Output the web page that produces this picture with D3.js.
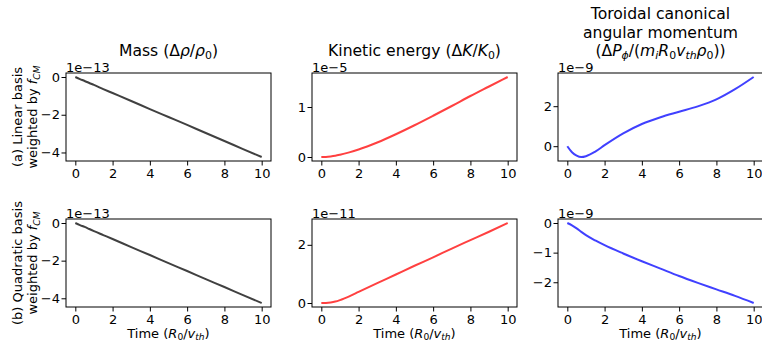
<!DOCTYPE html>
<html>
<head>
<meta charset="utf-8">
<script src="https://cdn.jsdelivr.net/npm/d3@7"></script>
<style>
  body { margin: 0; background: #fff; }
  svg { display: block; font-family: "DejaVu Sans", sans-serif; }
  .tick text { font-size: 13px; fill: #000; }
  .tick line { stroke: #000; stroke-width: 1; }
</style>
</head>
<body>
<svg id="chart" width="762" height="342"></svg>
<script>
// ---- data ----
const time = [0, 0.25, 0.5, 0.75, 1, 1.5, 2, 3, 4, 5, 6, 7, 8, 9, 10];

// row (a): linear basis
const massLinear     = [0, -0.11, -0.21, -0.32, -0.42, -0.64, -0.85, -1.27, -1.70, -2.12, -2.54, -2.97, -3.39, -3.82, -4.24];
const energyLinear   = [0, 0.002, 0.011, 0.025, 0.045, 0.093, 0.15, 0.29, 0.455, 0.635, 0.825, 1.02, 1.22, 1.41, 1.60];
const momentumLinear = [0, -0.30, -0.47, -0.54, -0.50, -0.27, 0.05, 0.64, 1.11, 1.45, 1.72, 1.99, 2.34, 2.85, 3.46];

// row (b): quadratic basis
const massQuadratic     = [0, -0.11, -0.21, -0.32, -0.43, -0.64, -0.85, -1.28, -1.70, -2.13, -2.55, -2.98, -3.40, -3.83, -4.25];
const energyQuadratic   = [0, 0.004, 0.02, 0.05, 0.10, 0.23, 0.38, 0.68, 0.98, 1.28, 1.57, 1.87, 2.16, 2.45, 2.75];
const momentumQuadratic = [0, -0.08, -0.18, -0.30, -0.41, -0.59, -0.75, -1.03, -1.29, -1.54, -1.79, -2.02, -2.24, -2.46, -2.70];

const xTicks = [0, 2, 4, 6, 8, 10];
const yTicksLinear    = [[-4, -2, 0], [0, 1], [0, 2]];
const yTicksQuadratic = [[-4, -2, 0], [0, 2], [-2, -1, 0]];
const offsetLinear    = ['1e\u221213', '1e\u22125', '1e\u22129'];
const offsetQuadratic = ['1e\u221213', '1e\u221211', '1e\u22129'];
const colors = ['#000', '#f00', '#00f'];

// rich text segments: [text, style]  n = normal, i = italic, s = subscript, si = italic subscript
const titles = [
  [[['Mass (\u0394', 'n'], ['\u03c1', 'i'], ['/', 'n'], ['\u03c1', 'i'], ['0', 's'], [')', 'n']]],
  [[['Kinetic energy (\u0394', 'n'], ['K', 'i'], ['/', 'n'], ['K', 'i'], ['0', 's'], [')', 'n']]],
  [
    [['Toroidal canonical', 'n']],
    [['angular momentum', 'n']],
    [['(\u0394', 'n'], ['P', 'i'], ['\u03d5', 'si'], ['/(', 'n'], ['m', 'i'], ['i', 'si'], ['R', 'i'], ['0', 's'],
     ['v', 'i'], ['th', 'si'], ['\u03c1', 'i'], ['0', 's'], ['))', 'n']]
  ]
];
const rowLabels = [
  [[['(a) Linear basis', 'n']], [['weighted by ', 'n'], ['f', 'i'], ['CM', 'si']]],
  [[['(b) Quadratic basis', 'n']], [['weighted by ', 'n'], ['f', 'i'], ['CM', 'si']]]
];
const xLabel = [['Time (', 'n'], ['R', 'i'], ['0', 's'], ['/', 'n'], ['v', 'i'], ['th', 'si'], [')', 'n']];

// ---- layout ----
const colLeft = [66, 312, 558];
const panelW = 205;
const rowTop = [73, 219];
const panelH = 88;

const svg = d3.select('#chart');

function richText(sel, segments, fs) {
  let down = false;
  segments.forEach(([txt, st]) => {
    const sub = st === 's' || st === 'si';
    const t = sel.append('tspan').text(txt);
    if (st === 'i' || st === 'si') t.attr('font-style', 'italic');
    if (sub) t.attr('font-size', fs * 0.7);
    if (sub && !down) { t.attr('dy', fs * 0.22); down = true; }
    else if (!sub && down) { t.attr('dy', -fs * 0.22); down = false; }
  });
}

const rows = [
  { series: [massLinear, energyLinear, momentumLinear], ticks: yTicksLinear, offsets: offsetLinear },
  { series: [massQuadratic, energyQuadratic, momentumQuadratic], ticks: yTicksQuadratic, offsets: offsetQuadratic }
];

const line = d3.line().curve(d3.curveMonotoneX);
const fmt = d => d < 0 ? '\u2212' + Math.abs(d) : String(d);

rows.forEach((row, r) => {
  row.series.forEach((vals, c) => {
    const x0 = colLeft[c], y0 = rowTop[r];
    const g = svg.append('g').attr('transform', `translate(${x0},${y0})`);

    const x = d3.scaleLinear().domain([-0.5, 10.5]).range([0, panelW]);
    const [lo, hi] = d3.extent(vals);
    const pad = (hi - lo) * 0.05;
    const y = d3.scaleLinear().domain([lo - pad, hi + pad]).range([panelH, 0]);

    g.append('g')
      .attr('transform', `translate(0,${panelH})`)
      .call(d3.axisBottom(x).tickValues(xTicks).tickSize(4.5).tickPadding(3.5).tickSizeOuter(0).tickFormat(fmt))
      .call(a => a.select('.domain').remove())
      .call(a => a.selectAll('text').attr('font-family', 'DejaVu Sans'));

    g.append('g')
      .call(d3.axisLeft(y).tickValues(row.ticks[c]).tickSize(4.5).tickPadding(1.5).tickSizeOuter(0).tickFormat(fmt))
      .call(a => a.select('.domain').remove())
      .call(a => a.selectAll('text').attr('font-family', 'DejaVu Sans'));

    g.append('path')
      .datum(vals.map((v, i) => [x(time[i]), y(v)]))
      .attr('d', line)
      .attr('fill', 'none')
      .attr('stroke', colors[c])
      .attr('stroke-opacity', 0.75)
      .attr('stroke-width', 2);

    g.append('rect')
      .attr('x', 0).attr('y', 0)
      .attr('width', panelW).attr('height', panelH)
      .attr('fill', 'none').attr('stroke', '#000').attr('stroke-width', 1);

    g.append('text')
      .attr('x', 0).attr('y', -1.5)
      .attr('font-size', 13)
      .text(row.offsets[c]);

    // row label
    if (c === 0) {
      const cy = y0 + panelH / 2;
      rowLabels[r].forEach((segs, k) => {
        const t = svg.append('text')
          .attr('transform', `translate(${22 + k * 15},${cy}) rotate(-90)`)
          .attr('text-anchor', 'middle')
          .attr('font-size', 13);
        richText(t, segs, 13);
      });
    }

    // titles on top row, x label on bottom row
    if (r === 0) {
      const linesT = titles[c];
      linesT.forEach((segs, k) => {
        const t = svg.append('text')
          .attr('x', x0 + panelW / 2)
          .attr('y', 56 - (linesT.length - 1 - k) * 18.3)
          .attr('text-anchor', 'middle')
          .attr('font-size', 15.6);
        richText(t, segs, 15.6);
      });
    } else {
      const t = svg.append('text')
        .attr('x', x0 + panelW / 2)
        .attr('y', 337.5)
        .attr('text-anchor', 'middle')
        .attr('font-size', 13);
      richText(t, xLabel, 13);
    }
  });
});
</script>
</body>
</html>
